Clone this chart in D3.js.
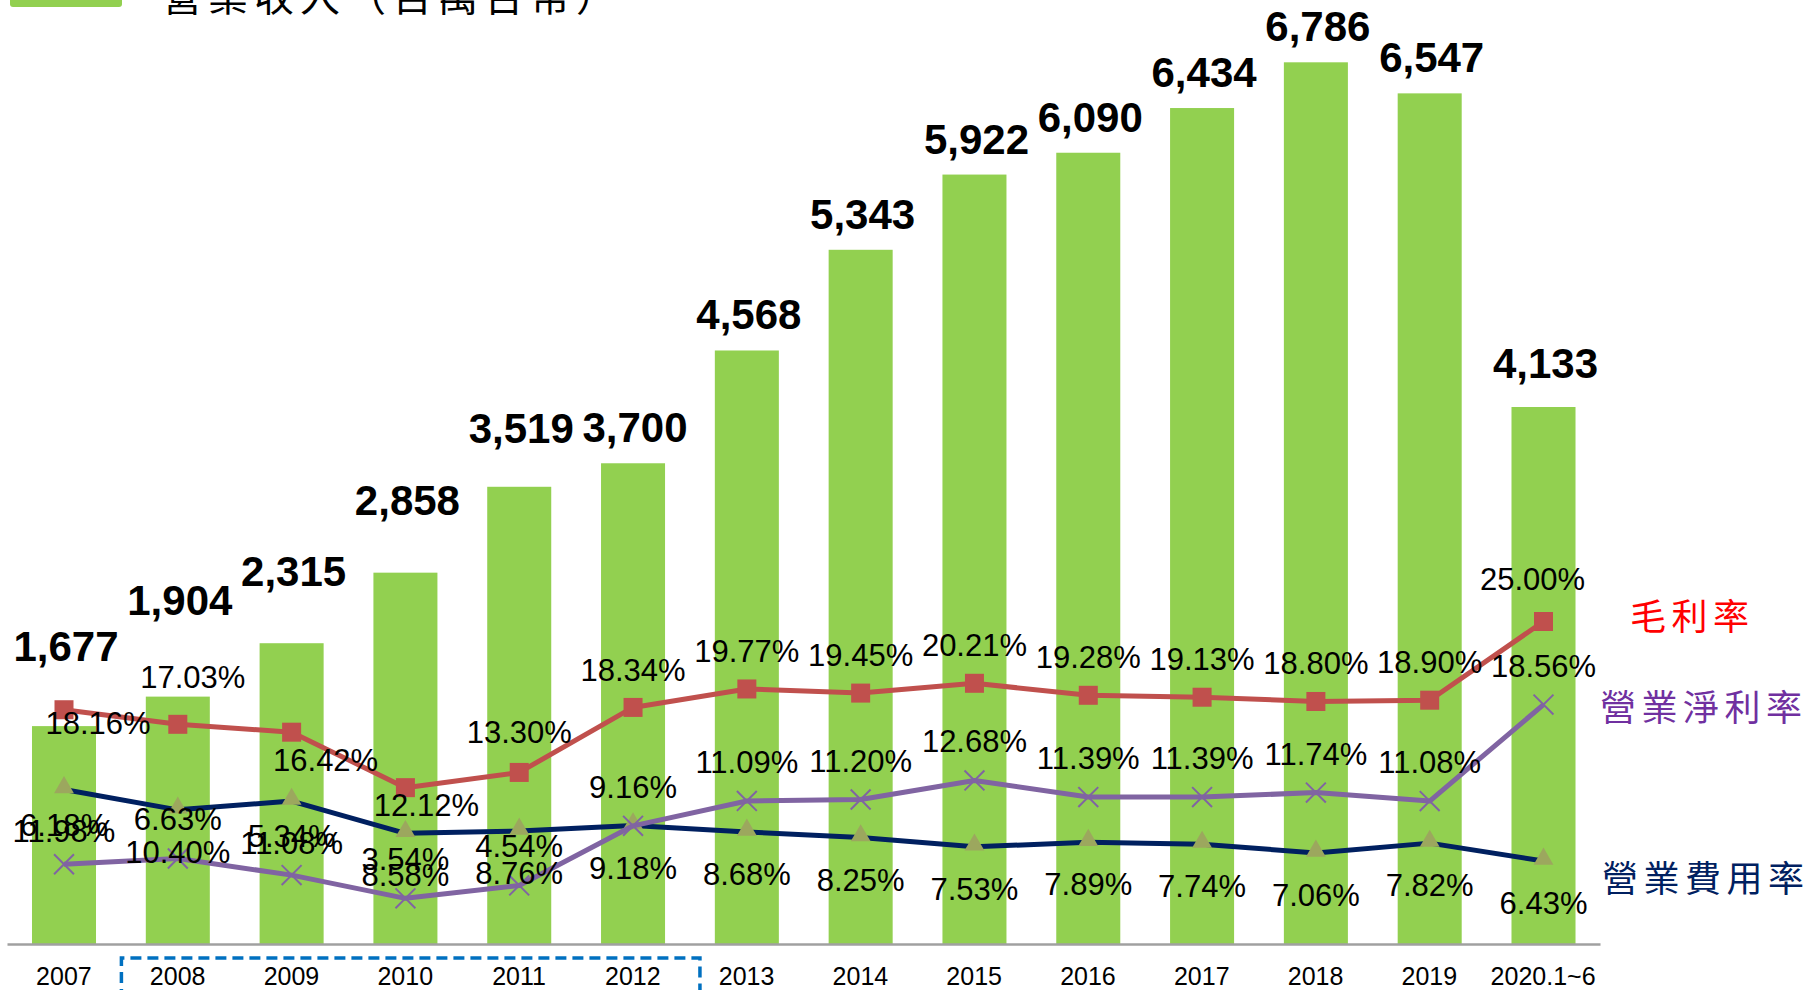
<!DOCTYPE html>
<html>
<head>
<meta charset="utf-8">
<script src="https://cdn.jsdelivr.net/npm/d3@7/dist/d3.min.js"></script>
<style>
  html, body { margin: 0; padding: 0; background: #fff; }
  svg { display: block; }
</style>
</head>
<body>
<svg id="chart" width="1812" height="990"></svg>
<script>
// ---------------- data ----------------
const years = ["2007","2008","2009","2010","2011","2012","2013","2014","2015","2016","2017","2018","2019","2020.1~6"];
const revenue = [1677, 1904, 2315, 2858, 3519, 3700, 4568, 5343, 5922, 6090, 6434, 6786, 6547, 4133];
const grossMargin = [18.16, 17.03, 16.42, 12.12, 13.30, 18.34, 19.77, 19.45, 20.21, 19.28, 19.13, 18.80, 18.90, 25.00];
// navy line (triangles) as drawn in the picture
const navyLine = [11.98, 10.40, 11.08, 8.58, 8.76, 9.18, 8.68, 8.25, 7.53, 7.89, 7.74, 7.06, 7.82, 6.43];
// purple line (crosses) as drawn in the picture
const purpleLine = [6.18, 6.63, 5.34, 3.54, 4.54, 9.16, 11.09, 11.20, 12.68, 11.39, 11.39, 11.74, 11.08, 18.56];
const legendTitle = "營業收入（百萬台幣）";
const seriesNames = ["毛利率", "營業淨利率", "營業費用率"];

// ---------------- layout tweaks (label nudges) ----------------
const barLabelLift = [44, 61, 36, 37, 23, 0, 0, 0, 0, 0, 0, 0, 0, 8];
const grossLabelDy = [24, -36, 39, 28, -29, -26, -27, -27, -27, -27, -27, -27, -27, -32];
const grossLabelDx = [34, 15, 34, 21, 0, 0, 0, 0, 0, 0, 0, 0, 0, -11];

// ---------------- drawing ----------------
const svg = d3.select("#chart");
const baseY = 944;

const x = d3.scalePoint().domain(years).range([64, 1543.5]);
const step = x.step();
const barW = step * 0.5625;
const yBar = d3.scaleLinear().domain([0, 7000]).range([baseY, baseY - 909.5]);
const yPct = d3.scaleLinear().domain([0, 70]).range([baseY, baseY - 903]);

const fmt = d3.format(",");
const pct = d => d.toFixed(2) + "%";

// bars
svg.append("g").selectAll("rect").data(revenue).join("rect")
  .attr("x", (d, i) => x(years[i]) - barW / 2)
  .attr("y", d => yBar(d))
  .attr("width", barW)
  .attr("height", d => baseY - yBar(d))
  .attr("fill", "#92D050");

// x axis
const xAxis = d3.axisBottom(d3.scaleBand().domain(years).range([7, 1600]))
  .tickSize(0).tickPadding(0);
const gx = svg.append("g").attr("transform", `translate(0,${baseY})`).call(xAxis);
gx.select(".domain").attr("stroke", "#A0A0A0").attr("stroke-width", 2.5);
gx.selectAll("text")
  .attr("y", 41).attr("dy", 0)
  .attr("font-family", "Liberation Sans, Arial, sans-serif")
  .attr("font-size", 25).attr("fill", "#000");

// dashed bracket around 2008-2012
const bx0 = x("2008") - step / 2 + 0.5;
const bx1 = x("2012") + step / 2 + 10;
svg.append("path")
  .attr("d", `M${bx0},1000 L${bx0},958 L${bx1},958 L${bx1},1000`)
  .attr("fill", "none").attr("stroke", "#0070C0").attr("stroke-width", 3.5)
  .attr("stroke-dasharray", "11,6");

// bar value labels
svg.append("g").selectAll("text").data(revenue).join("text")
  .attr("x", (d, i) => x(years[i]) + 2)
  .attr("y", (d, i) => yBar(d) - 21 - barLabelLift[i])
  .attr("text-anchor", "middle")
  .attr("font-family", "Liberation Sans, Arial, sans-serif")
  .attr("font-weight", "bold").attr("font-size", 42).attr("fill", "#000")
  .text(d => fmt(d));

// lines
const line = d3.line().x((d, i) => x(years[i])).y(d => yPct(d));

function drawLine(vals, color) {
  svg.append("path").datum(vals).attr("d", line)
    .attr("fill", "none").attr("stroke", color).attr("stroke-width", 5)
    .attr("stroke-linejoin", "round");
}

drawLine(grossMargin, "#C0504D");
svg.append("g").selectAll("rect").data(grossMargin).join("rect")
  .attr("x", (d, i) => x(years[i]) - 9.5)
  .attr("y", d => yPct(d) - 9.5)
  .attr("width", 19).attr("height", 19)
  .attr("fill", "#C0504D");

drawLine(navyLine, "#002060");
svg.append("g").selectAll("path").data(navyLine).join("path")
  .attr("d", d3.symbol(d3.symbolTriangle, 170))
  .attr("transform", (d, i) => `translate(${x(years[i])},${yPct(d) - 2})`)
  .attr("fill", "#9CA75E");

drawLine(purpleLine, "#8064A2");
svg.append("g").selectAll("path").data(purpleLine).join("path")
  .attr("d", d3.symbol(d3.symbolX, 260))
  .attr("transform", (d, i) => `translate(${x(years[i])},${yPct(d)})`)
  .attr("fill", "none").attr("stroke", "#8064A2").attr("stroke-width", 2);

// percentage labels
function pctLabels(vals, dyFn, dxFn) {
  svg.append("g").selectAll("text").data(vals).join("text")
    .attr("x", (d, i) => x(years[i]) + dxFn(i))
    .attr("y", (d, i) => yPct(d) + dyFn(i))
    .attr("text-anchor", "middle")
    .attr("font-family", "Liberation Sans, Arial, sans-serif")
    .attr("font-size", 31).attr("fill", "#000")
    .text(d => pct(d));
}
pctLabels(grossMargin, i => grossLabelDy[i], i => grossLabelDx[i]);
pctLabels(purpleLine, () => -28, () => 0);
pctLabels(navyLine, () => 53, () => 0);

// series name labels on the right
const cjk = "'Noto Sans CJK TC', 'Noto Sans CJK SC', sans-serif";
const nameSpec = [
  { name: seriesNames[0], color: "#FF0000", y: 614, x: 1630 },
  { name: seriesNames[1], color: "#7030A0", y: 705, x: 1600 },
  { name: seriesNames[2], color: "#002060", y: 876, x: 1602 }
];
svg.append("g").selectAll("text").data(nameSpec).join("text")
  .attr("x", d => d.x)
  .attr("y", d => d.y)
  .attr("dominant-baseline", "central")
  .attr("font-family", cjk).attr("font-size", 36)
  .attr("letter-spacing", 5.5)
  .attr("fill", d => d.color)
  .text(d => d.name);

// top legend (partly cut off)
svg.append("rect").attr("x", 10).attr("y", -20).attr("width", 112).attr("height", 27)
  .attr("rx", 3).attr("fill", "#92D050");
svg.append("text").attr("x", 162).attr("y", 11)
  .attr("font-family", cjk).attr("font-size", 40).attr("letter-spacing", 6)
  .attr("fill", "#000").text(legendTitle);
</script>
</body>
</html>
